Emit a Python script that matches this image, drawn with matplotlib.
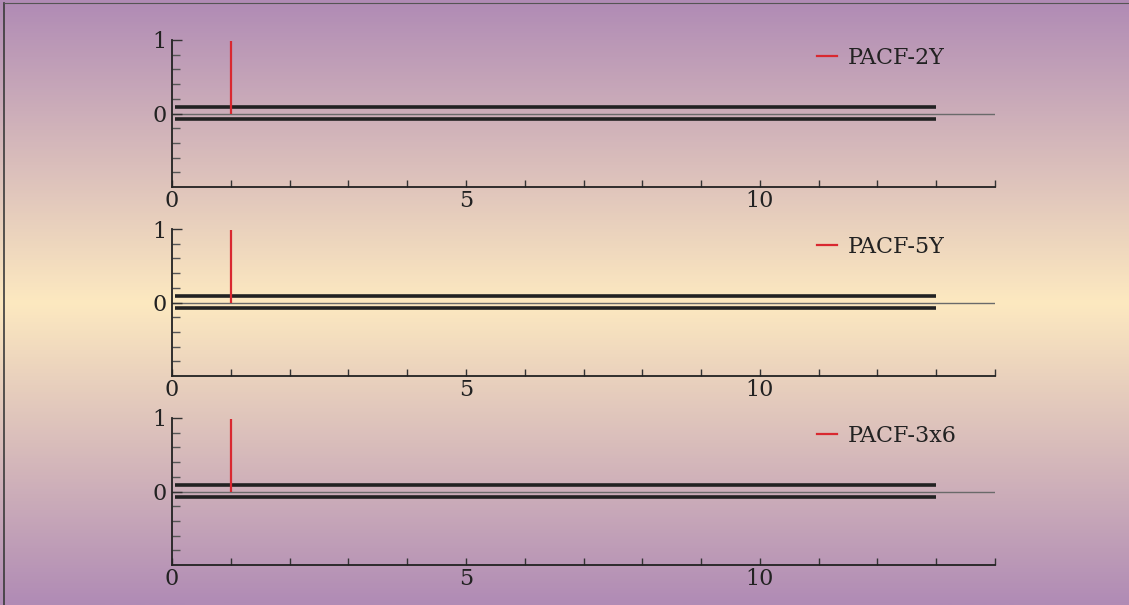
import numpy as np
import matplotlib
matplotlib.use("Agg")
import matplotlib.pyplot as plt
from matplotlib.colors import LinearSegmentedColormap
from matplotlib.lines import Line2D
from matplotlib.ticker import FixedLocator

plt.rcParams['font.family'] = ['DejaVu Serif']

# ---- data ----
lags = [1, 2, 3, 4, 5, 6, 7, 8, 9, 10, 11, 12, 13]
pacf_2y = [0.99, 0, 0, 0, 0, 0, 0, 0, 0, 0, 0, 0, 0]
pacf_5y = [0.99, 0, 0, 0, 0, 0, 0, 0, 0, 0, 0, 0, 0]
pacf_3x6 = [0.99, 0, 0, 0, 0, 0, 0, 0, 0, 0, 0, 0, 0]
series_names = ["PACF-2Y", "PACF-5Y", "PACF-3x6"]
conf_upper = 0.09
conf_lower = -0.075
conf_end = 13
x_max = 14
x_major = [0, 5, 10]
x_labels = ["0", "5", "10"]
y_major = [0, 1]
y_labels = ["0", "1"]

W, H = 1129, 605
fig = plt.figure(figsize=(W / 100, H / 100), dpi=100)

# background gradient
bg = fig.add_axes([0, 0, 1, 1], zorder=-10)
cmap = LinearSegmentedColormap.from_list(
    "bg", ["#b08bb5", "#fde9c0", "#b08bb5"])
grad = np.linspace(0, 1, 600).reshape(-1, 1)
bg.imshow(grad, aspect="auto", cmap=cmap, extent=[0, 1, 0, 1], origin="upper")
bg.set_xlim(0, 1); bg.set_ylim(0, 1)
bg.axis("off")
bg.plot([4 / W, 4 / W], [0, 1 - 3 / H], color="#3a3a3a", lw=1.2)
bg.plot([4 / W, 1], [1 - 3 / H, 1 - 3 / H], color="#555555", lw=0.8)

panels = [(40, 187), (229, 376), (418, 565)]
data = [pacf_2y, pacf_5y, pacf_3x6]
left_px, right_px = 172, 995
fs = 16

for (top, bot), vals, name in zip(panels, data, series_names):
    ax = fig.add_axes([left_px / W, 1 - bot / H, (right_px - left_px) / W, (bot - top) / H])
    ax.set_facecolor("none")
    ax.set_xlim(0, x_max)
    ax.set_ylim(-1, 1)
    for s in ["top", "right"]:
        ax.spines[s].set_visible(False)
    for s in ["left", "bottom"]:
        ax.spines[s].set_color("#222222")
        ax.spines[s].set_linewidth(1.3)
    ax.axhline(0, color="#6a6a6a", lw=1.0, zorder=1)
    ax.hlines([conf_upper, conf_lower], 0.05, conf_end, color="#222222", lw=2.6, zorder=2)
    ax.vlines(lags, 0, vals, color="#d92830", lw=1.6, zorder=3)

    ax.xaxis.set_major_locator(FixedLocator(x_major))
    ax.xaxis.set_minor_locator(FixedLocator([1, 2, 3, 4, 6, 7, 8, 9, 11, 12, 13, 14]))
    ax.yaxis.set_major_locator(FixedLocator(y_major))
    ax.yaxis.set_minor_locator(FixedLocator([-0.8, -0.6, -0.4, -0.2, 0.2, 0.4, 0.6, 0.8]))
    ax.tick_params(axis="x", which="both", direction="in", length=5, width=1.0,
                   color="#333333", labelsize=fs, labelcolor="#222222", pad=2)
    ax.tick_params(axis="y", which="major", direction="in", length=7, width=1.0,
                   color="#333333", labelsize=fs, labelcolor="#222222", pad=4)
    ax.tick_params(axis="y", which="minor", direction="in", length=6, width=1.0,
                   color="#555555")
    ax.set_xticklabels(x_labels)
    ax.set_yticklabels(y_labels)

    h = Line2D([], [], color="#d92830", lw=1.6)
    ax.legend([h], [name], loc="center left",
              bbox_to_anchor=((817 - left_px) / (right_px - left_px), (bot - (top + 18)) / (bot - top)),
              frameon=False, fontsize=fs, handlelength=0.9, handletextpad=0.5,
              borderpad=0, borderaxespad=0, labelcolor="#222222")

fig.savefig("out.png", dpi=100)
